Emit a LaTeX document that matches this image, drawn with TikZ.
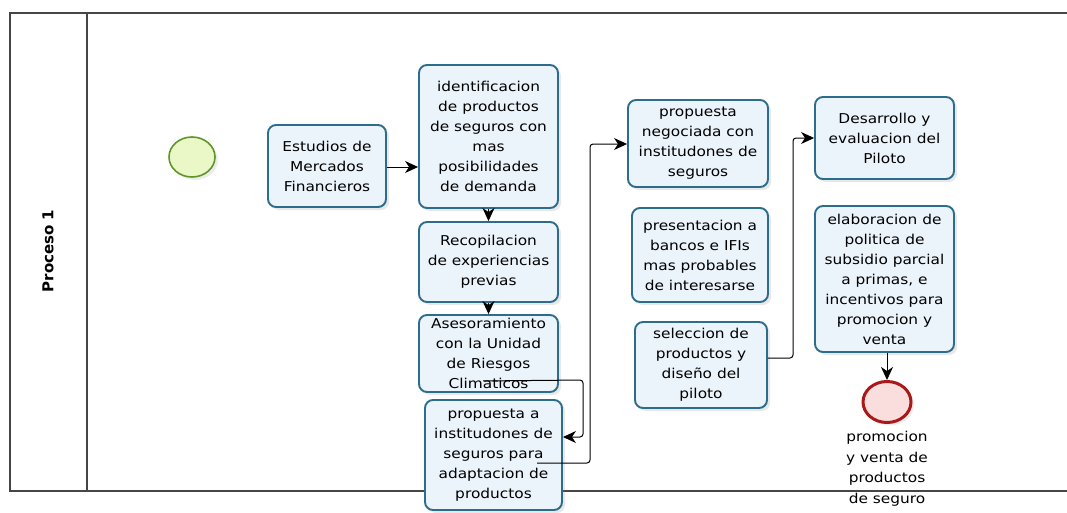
\documentclass[tikz,border=0pt]{standalone}
\usepackage{fontspec}
\setmainfont{DejaVu Sans}[FakeStretch=1.13]
\newfontfamily\lanefont{DejaVu Sans}
\usetikzlibrary{shadows,arrows.meta,calc,shapes.geometric}
\definecolor{boxfill}{RGB}{236,244,251}
\definecolor{boxline}{RGB}{44,108,140}
\definecolor{poolline}{RGB}{70,70,70}
\definecolor{startfill}{RGB}{234,248,200}
\definecolor{startline}{RGB}{96,150,40}
\definecolor{endfill}{RGB}{250,222,222}
\definecolor{endline}{RGB}{170,25,25}
\tikzset{
  task/.style={draw=boxline, fill=boxfill, line width=1.9pt, rounded corners=8pt,
    align=center, inner sep=1pt, font=\fontsize{13.6}{20}\selectfont,
    drop shadow={opacity=0.18, shadow xshift=3pt, shadow yshift=-3pt}},
  flow/.style={draw=black, line width=1pt, rounded corners=3pt,
    -{Stealth[length=13pt,width=12pt,inset=4pt]}},
  pool/.style={draw=poolline, line width=1.5pt},
  lbl/.style={align=center, font=\fontsize{13.6}{20.5}\selectfont}
}
\begin{document}
\begin{tikzpicture}[x=1pt,y=-1pt]
\useasboundingbox (0,0) rectangle (1067,512);
% pool
\draw[pool] (1067,13) -- (10,13) -- (10,491) -- (1067,491);
\draw[pool] (87,13) -- (87,491);
\node[rotate=90, font=\lanefont\bfseries\fontsize{15}{16}\selectfont] (lane) at (48,251) {Proceso 1};
% events
\node[draw=startline, fill=startfill, line width=1.6pt, ellipse, minimum width=46pt, minimum height=40pt, inner sep=0pt,
  drop shadow={opacity=0.15, shadow xshift=3pt, shadow yshift=-3pt}] (start) at (192,157) {};
% tasks
\node[task, minimum width=118pt, minimum height=82pt] (est) at (327,166) {Estudios de\\Mercados\\Financieros};
\node[task, minimum width=139pt, minimum height=143pt] (ident) at (488.5,136.5) {identificacion\\de productos\\de seguros con\\mas\\posibilidades\\de demanda};
\node[task, minimum width=139pt, minimum height=80pt] (recop) at (488.5,262) {Recopilacion\\de experiencias\\previas};
\node[task, minimum width=139pt, minimum height=77pt] (ases) at (488.5,353.5) {Asesoramiento\\con la Unidad\\de Riesgos\\Climaticos};
\node[task, minimum width=137pt, minimum height=110pt] (propa) at (493.5,455) {propuesta a\\institudones de\\seguros para\\adaptacion de\\productos};
\node[task, minimum width=140pt, minimum height=87pt] (propn) at (698,143.5) {propuesta\\negociada con\\institudones de\\seguros};
\node[task, minimum width=136pt, minimum height=94pt] (pres) at (700,255) {presentacion a\\bancos e IFIs\\mas probables\\de interesarse};
\node[task, minimum width=132pt, minimum height=86pt] (sel) at (701,365) {seleccion de\\productos y\\diseño del\\piloto};
\node[task, minimum width=139pt, minimum height=82pt] (desa) at (884.5,138) {Desarrollo y\\evaluacion del\\Piloto};
\node[task, minimum width=139pt, minimum height=146pt] (elab) at (884.5,279) {elaboracion de\\politica de\\subsidio parcial\\a primas, e\\incentivos para\\promocion y\\venta};
\node[draw=endline, fill=endfill, line width=3pt, ellipse, minimum width=48pt, minimum height=41pt, inner sep=0pt,
  drop shadow={opacity=0.15, shadow xshift=3pt, shadow yshift=-3pt}] (end) at (887,402) {};
\node[lbl, anchor=north] (endlbl) at (887,428) {promocion\\y venta de\\productos\\de seguro};
% flows
\draw[flow] (est.east |- 0,167) -- (ident.west |- 0,167);
\draw[flow] (ident.south) -- (recop.north);
\draw[flow] (recop.south) -- (ases.north);
\coordinate (a1) at ($(ases.south)+(-5.5,-12)$);
\draw[flow] (a1) -- (583,380) -- (583,437) -- (propa.east |- 0,437);
\coordinate (p1) at ($(propa.center)+(43.5,8)$);
\draw[flow] (p1) -- (590,463) -- (590,144) -- (propn.west |- 0,144);
\draw[flow] (sel.east |- 0,358) -- (793,358) -- (793,138) -- (desa.west |- 0,138);
\draw[flow] (elab.south -| end.north) -- (end.north);
\end{tikzpicture}
\end{document}
